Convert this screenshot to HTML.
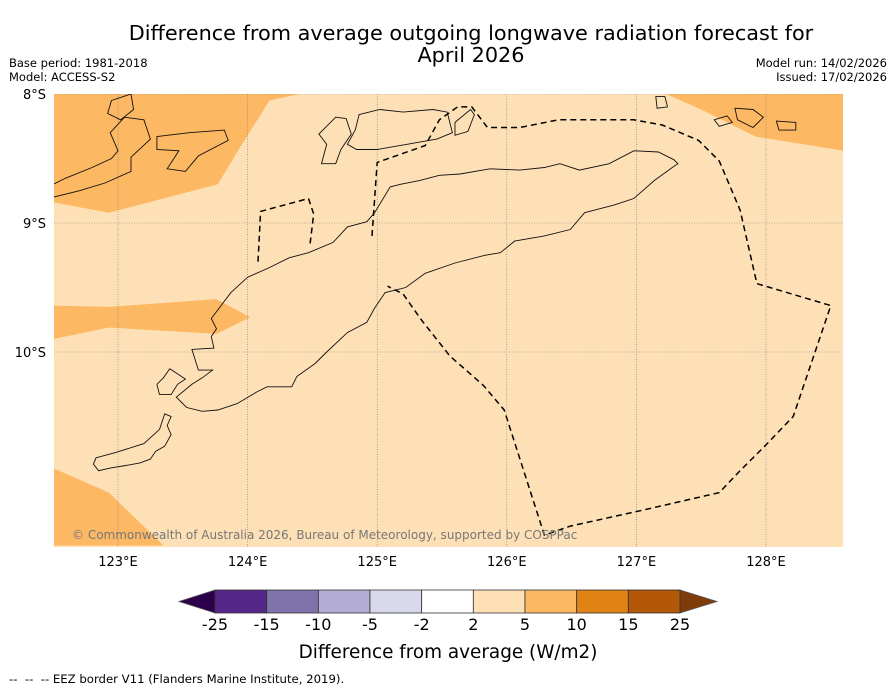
<!DOCTYPE html>
<html><head><meta charset="utf-8">
<style>
html,body{margin:0;padding:0;background:#fff;}
svg{display:block;font-family:"DejaVu Sans","Liberation Sans",sans-serif;}
</style></head>
<body>
<svg id="c" width="896" height="690" viewBox="0 0 896 690">
<text x="471" y="40" font-size="20.8" text-anchor="middle">Difference from average outgoing longwave radiation forecast for</text>
<text x="471" y="62" font-size="20.8" text-anchor="middle">April 2026</text>
<text x="9" y="67" font-size="11.5">Base period: 1981-2018</text>
<text x="9" y="81" font-size="11.5">Model: ACCESS-S2</text>
<text x="887" y="67" font-size="11.5" text-anchor="end">Model run: 14/02/2026</text>
<text x="887" y="81" font-size="11.5" text-anchor="end">Issued: 17/02/2026</text>
<defs><clipPath id="mc"><rect x="54" y="94" width="789" height="453"/></clipPath></defs>
<g id="map" clip-path="url(#mc)">
<rect x="54" y="94" width="789" height="453" fill="#fee0b6"/>
</g>
<g id="axes"></g>
<g id="cbar"></g>
<text x="448" y="658" font-size="18.4" text-anchor="middle">Difference from average (W/m2)</text>
<text x="9" y="683" font-size="11.7" xml:space="preserve">--  --  -- EEZ border V11 (Flanders Marine Institute, 2019).</text>
</svg>
<script>
const NS="http://www.w3.org/2000/svg";
const lonTicks=[123,124,125,126,127,128];
const latTicks=[8,9,10];
const cbLevels=[-25,-15,-10,-5,-2,2,5,10,15,25];
const cbColors=["#542788","#8073ac","#b2abd2","#d8daeb","#ffffff","#fee0b6","#fdb863","#e08214","#b35806"];
const cbUnder="#2d004b", cbOver="#7f3b08";
const patchLevel=[6,6,6,6];
const patches=[
 [[122.5,8],[124.4,8],[124.17,8.05],[123.95,8.4],[123.77,8.7],[122.93,8.92],[122.5,8.84]],
 [[122.5,9.64],[122.93,9.65],[123.76,9.59],[124.02,9.73],[123.76,9.86],[122.93,9.81],[122.5,9.9]],
 [[122.5,10.9],[122.93,11.09],[123.35,11.5],[122.5,11.5]],
 [[127.23,8],[128.6,8],[128.6,8.44],[127.92,8.33],[127.5,8.12]]
];
const coasts=[
 [[123.57,9.98],[123.74,9.97],[123.72,9.88],[123.76,9.82],[123.72,9.74],[123.87,9.54],[124.0,9.42],[124.16,9.35],[124.32,9.27],[124.47,9.23],[124.66,9.15],[124.77,9.03],[124.92,8.99],[124.98,8.92],[125.1,8.72],[125.18,8.7],[125.33,8.67],[125.48,8.63],[125.64,8.62],[125.87,8.58],[126.1,8.59],[126.29,8.57],[126.41,8.54],[126.56,8.59],[126.79,8.54],[126.98,8.44],[127.17,8.45],[127.29,8.51],[127.32,8.54],[127.29,8.56],[127.14,8.67],[126.98,8.81],[126.83,8.86],[126.6,8.92],[126.49,9.05],[126.29,9.1],[126.06,9.14],[125.95,9.23],[125.83,9.25],[125.6,9.31],[125.37,9.39],[125.22,9.5],[125.06,9.54],[124.98,9.66],[124.92,9.77],[124.77,9.85],[124.61,10.0],[124.52,10.09],[124.38,10.19],[124.34,10.27],[124.15,10.27],[124.07,10.31],[123.92,10.4],[123.77,10.45],[123.65,10.46],[123.53,10.43],[123.45,10.35],[123.57,10.25],[123.65,10.2],[123.73,10.14],[123.62,10.14]],
 [[123.3,10.25],[123.35,10.2],[123.4,10.13],[123.46,10.17],[123.52,10.21],[123.46,10.25],[123.41,10.33],[123.32,10.33]],
 [[122.83,10.82],[122.98,10.78],[123.2,10.71],[123.32,10.6],[123.36,10.48],[123.41,10.5],[123.38,10.57],[123.41,10.64],[123.36,10.73],[123.29,10.77],[123.25,10.83],[123.17,10.86],[123.06,10.88],[122.94,10.9],[122.85,10.92],[122.81,10.87]],
 [[124.86,8.16],[125.02,8.12],[125.2,8.14],[125.43,8.12],[125.54,8.14],[125.58,8.3],[125.46,8.35],[125.23,8.39],[125.0,8.43],[124.84,8.43],[124.77,8.39],[124.83,8.28]],
 [[124.68,8.18],[124.76,8.19],[124.8,8.31],[124.72,8.43],[124.68,8.54],[124.57,8.54],[124.61,8.39],[124.55,8.31]],
 [[125.6,8.22],[125.72,8.12],[125.75,8.16],[125.7,8.29],[125.6,8.32]],
 [[127.15,8.02],[127.22,8.02],[127.24,8.1],[127.16,8.11]],
 [[127.76,8.11],[127.9,8.12],[127.98,8.18],[127.9,8.26],[127.78,8.2]],
 [[128.08,8.21],[128.23,8.22],[128.23,8.28],[128.1,8.28]],
 [[127.6,8.2],[127.7,8.17],[127.74,8.22],[127.64,8.25]],
 [[122.5,8.7],[122.6,8.65],[122.8,8.57],[122.95,8.5],[123.0,8.44],[122.94,8.3],[123.05,8.18],[123.2,8.2],[123.25,8.35],[123.1,8.49],[123.1,8.6],[122.9,8.69],[122.7,8.75],[122.5,8.8]],
 [[123.3,8.33],[123.55,8.3],[123.82,8.28],[123.85,8.36],[123.62,8.48],[123.52,8.6],[123.38,8.58],[123.47,8.44],[123.3,8.43]],
 [[122.95,8.05],[123.1,8.0],[123.12,8.12],[123.02,8.2],[122.92,8.15]]
];
const eez=[
 [[124.08,9.3],[124.1,8.91],[124.47,8.81],[124.51,8.93],[124.48,9.18]],
 [[124.96,9.1],[125.0,8.53],[125.37,8.4],[125.48,8.2],[125.62,8.1],[125.73,8.1],[125.85,8.26],[126.1,8.26],[126.4,8.2],[126.72,8.2],[126.98,8.2],[127.2,8.24],[127.48,8.36],[127.64,8.52],[127.8,8.9],[127.93,9.47],[128.5,9.64],[128.21,10.5],[127.99,10.73],[127.8,10.92],[127.64,11.09],[127.03,11.23],[126.49,11.35],[126.29,11.42],[125.98,10.45],[125.82,10.26],[125.56,10.03],[125.34,9.75],[125.2,9.55],[125.08,9.49]]
];
function X(lon){return 118+(lon-123)*129.6;}
function Y(lat){return 94+(lat-8)*129;}
function mk(t,a,p){const e=document.createElementNS(NS,t);for(const k in a)e.setAttribute(k,a[k]);(p||document.getElementById('c')).appendChild(e);return e;}
function pts(a){return a.map(p=>X(p[0]).toFixed(1)+","+Y(p[1]).toFixed(1)).join(" ");}
const map=document.getElementById('map');
patches.forEach((p,i)=>{const e=mk('polygon',{points:pts(p),fill:cbColors[patchLevel[i]]},map);

});
lonTicks.forEach(l=>{const e=mk('line',{x1:X(l),x2:X(l),y1:94,y2:547,stroke:'#777','stroke-width':0.6,'stroke-dasharray':'1,1.5'},map);

});
latTicks.forEach(l=>{const e=mk('line',{x1:54,x2:843,y1:Y(l),y2:Y(l),stroke:'#777','stroke-width':0.6,'stroke-dasharray':'1,1.5'},map);

});
coasts.forEach(c=>{const e=mk('polygon',{points:pts(c),fill:'none',stroke:'#111','stroke-width':0.9},map);

});
eez.forEach(c=>{const e=mk('polyline',{points:pts(c),fill:'none',stroke:'#000','stroke-width':1.5,'stroke-dasharray':'6,4'},map);

});
const cr=mk('text',{x:72,y:539,'font-size':12,fill:'#777'},map);cr.textContent='© Commonwealth of Australia 2026, Bureau of Meteorology, supported by COSPPac';


const ax=document.getElementById('axes');
lonTicks.forEach(l=>{const t=mk('text',{x:X(l),y:566,'font-size':13,'text-anchor':'middle'},ax);t.textContent=l+'°E';

});
latTicks.forEach(l=>{const t=mk('text',{x:46,y:Y(l)+5,'font-size':13,'text-anchor':'end'},ax);t.textContent=l+'°S';

});
const cb=document.getElementById('cbar');
const cx0=215,cx1=680,cy=590,ch=23,bw=(cx1-cx0)/cbColors.length;
let e=mk('polygon',{points:`${cx0},${cy} ${179},${cy+ch/2} ${cx0},${cy+ch}`,fill:cbUnder,stroke:'#555','stroke-width':0.8},cb);


e=mk('polygon',{points:`${cx1},${cy} ${717},${cy+ch/2} ${cx1},${cy+ch}`,fill:cbOver,stroke:'#555','stroke-width':0.8},cb);


cbColors.forEach((c,i)=>{const r=mk('rect',{x:cx0+i*bw,y:cy,width:bw,height:ch,fill:c,stroke:'#333','stroke-width':0.8},cb);

});
cbLevels.forEach((v,i)=>{const t=mk('text',{x:cx0+i*bw,y:630,'font-size':16,'text-anchor':'middle'},cb);t.textContent=v;

});
</script>
</body></html>
